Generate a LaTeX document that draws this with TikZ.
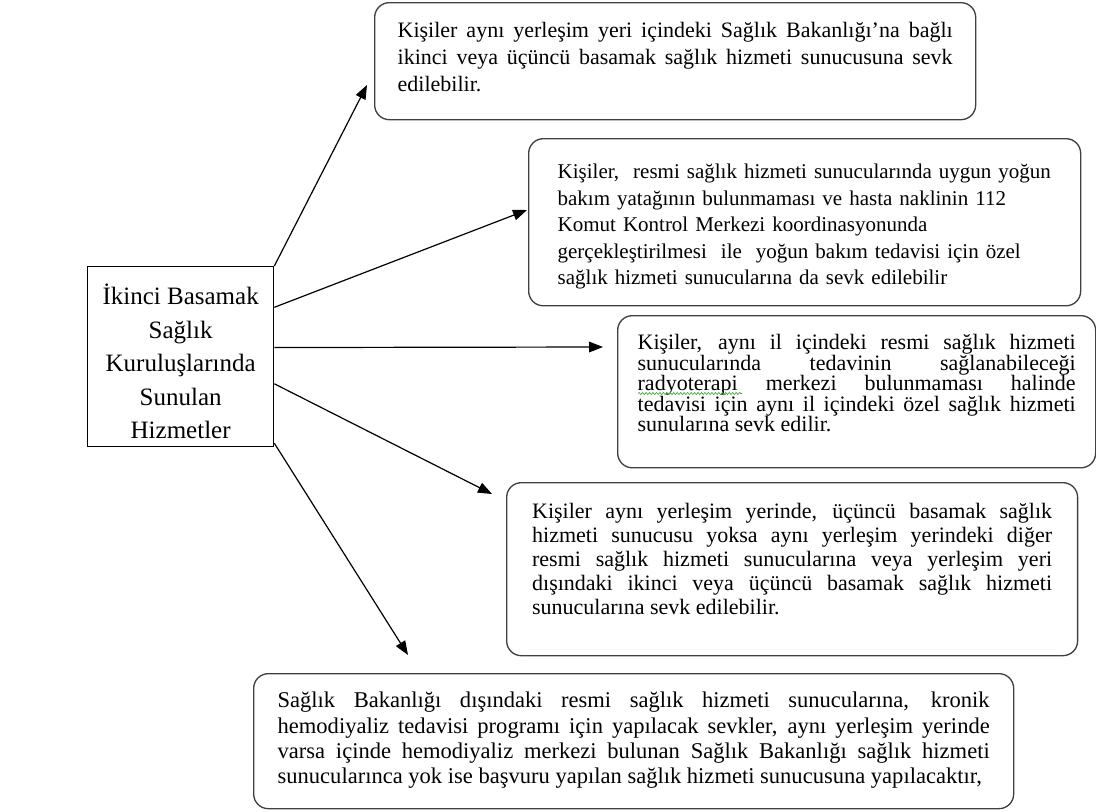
\documentclass[tikz,border=0pt]{standalone}
\usepackage{fontspec}
\setmainfont{Liberation Serif}
\newfontfamily\darfont{Liberation Serif}[WordSpace=0.6]
\usepackage{tikz}
\usetikzlibrary{arrows.meta,calc,decorations.pathmorphing}
\definecolor{cizgi}{RGB}{64,64,64}
\definecolor{dalgayesil}{RGB}{70,170,60}
\tolerance=10000
\hbadness=10000
\hfuzz=100pt
\hyphenpenalty=10000
\lineskiplimit=-100pt
\newcommand\ust[1]{\rule{0pt}{#1}}
\newcommand\alt[1]{\rule[-#1]{0pt}{0pt}}

\begin{document}
\begin{tikzpicture}[x=0.75pt,y=-0.75pt,
  kutu/.style={draw=cizgi,line width=1pt,rounded corners=11pt,anchor=north west,align=justify,inner ysep=0pt},
  merkez/.style={draw=black,line width=1pt,anchor=north west,align=center,inner sep=0pt,minimum width=139.5pt},
  ok/.style={-{Triangle[length=10.5pt,width=8pt]},line width=0.9pt},
  dalga/.style={draw=dalgayesil,line width=0.5pt,decorate,decoration={snake,amplitude=0.8pt,segment length=2.6pt}}]
\useasboundingbox (0,0) rectangle (1096,811);

\node[merkez,font=\fontsize{18.75}{25.1}\selectfont] (hub) at (87,266)
  {\ust{28.5pt}İkinci Basamak\\ Sağlık\\ Kuruluşlarında\\ Sunulan\\ Hizmetler\alt{6pt}};

\node[kutu,inner xsep=17.25pt,text width=416.25pt,font=\fontsize{16.5}{20.25}\selectfont] (b1) at (374,2)
  {\ust{26.25pt}Kişiler aynı yerleşim yeri içindeki Sağlık Bakanlığı’na bağlı\linebreak
   ikinci veya üçüncü basamak sağlık hizmeti sunucusuna sevk\linebreak
   edilebilir.\alt{21pt}};

\node[kutu,align=left,inner xsep=21.75pt,text width=370.5pt,font=\darfont\fontsize{15.75}{19.9}\selectfont] (b2) at (528,138)
  {\ust{30pt}\mbox{Kişiler,\ \ resmi sağlık hizmeti sunucularında uygun yoğun}\\
   \mbox{bakım yatağının bulunmaması ve hasta naklinin 112}\\
   \mbox{Komut Kontrol Merkezi koordinasyonunda}\\
   \mbox{gerçekleştirilmesi\ \ ile\ \ yoğun bakım tedavisi için özel}\\
   \mbox{sağlık hizmeti sunucularına da sevk edilebilir}\alt{15.75pt}};

\node[kutu,inner xsep=15pt,text width=328.5pt,font=\fontsize{16.5}{15.4}\selectfont] (b3) at (617,315)
  {\ust{25.5pt}Kişiler, aynı il içindeki resmi sağlık hizmeti\linebreak
   sunucularında tedavinin sağlanabileceği\linebreak
   radyoterapi merkezi bulunmaması halinde\linebreak
   tedavisi için aynı il içindeki özel sağlık hizmeti\linebreak
   sunularına sevk edilir.\alt{27pt}};
\draw[dalga] ($(b3.north west)+(21,78.5)$) coordinate (d1) -- ($(d1)+(104,0)$);

\node[kutu,inner xsep=19.1pt,text width=390pt,font=\fontsize{16.5}{18}\selectfont] (b4) at (506,482)
  {\ust{27pt}Kişiler aynı yerleşim yerinde, üçüncü basamak sağlık\linebreak
   hizmeti sunucusu yoksa aynı yerleşim yerindeki diğer\linebreak
   resmi sağlık hizmeti sunucularına veya yerleşim yeri\linebreak
   dışındaki ikinci veya üçüncü basamak sağlık hizmeti\linebreak
   sunucularına sevk edilebilir.\alt{30.75pt}};

\node[kutu,inner xsep=18pt,text width=534pt,font=\fontsize{16.9}{19}\selectfont] (b5) at (253,673)
  {\ust{25.5pt}Sağlık Bakanlığı dışındaki resmi sağlık hizmeti sunucularına, kronik\linebreak
   hemodiyaliz tedavisi programı için yapılacak sevkler, aynı yerleşim yerinde\linebreak
   varsa içinde hemodiyaliz merkezi bulunan Sağlık Bakanlığı sağlık hizmeti\linebreak
   sunucularınca yok ise başvuru yapılan sağlık hizmeti sunucusuna yapılacaktır,\alt{18.75pt}};

\coordinate (u1) at (367,85);
\coordinate (u2) at (527,210);
\coordinate (u3) at (603,347);
\coordinate (u4) at (492,494);
\coordinate (u5) at (408,655);

\draw[ok] (hub.north east) -- (u1);
\draw[ok] ($(hub.north east)!0.228!(hub.south east)$) -- (u2);
\draw[ok] ($(hub.north east)!0.45!(hub.south east)$) -- (u3);
\draw[ok] ($(hub.north east)!0.65!(hub.south east)$) -- (u4);
\draw[ok] ($(hub.north east)!0.978!(hub.south east)$) -- (u5);
\end{tikzpicture}
\end{document}
